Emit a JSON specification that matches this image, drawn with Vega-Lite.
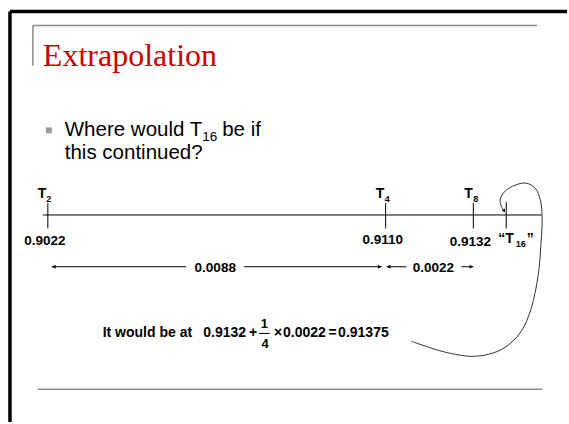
{
  "$schema": "https://vega.github.io/schema/vega-lite/v6.json",
  "width": 569,
  "height": 424,
  "autosize": {"type": "fit", "contains": "padding"},
  "padding": 0,
  "background": "white",
  "config": {"view": {"stroke": null}},
  "datasets": {
    "border": [
      {"x": 10, "y": 11.5, "x2": 569, "y2": 11.5},
      {"x": 10, "y": 11.5, "x2": 10, "y2": 424}
    ],
    "grayLines": [
      {"x": 33, "y": 25.5, "x2": 539, "y2": 25.5},
      {"x": 33, "y": 25.5, "x2": 33, "y2": 66},
      {"x": 38, "y": 391, "x2": 544, "y2": 391}
    ],
    "blackLines": [
      {"x": 43, "y": 216, "x2": 543.5, "y2": 216},
      {"x": 48, "y": 204, "x2": 48, "y2": 229.5},
      {"x": 387, "y": 204, "x2": 387, "y2": 229.5},
      {"x": 475, "y": 204, "x2": 475, "y2": 229.5},
      {"x": 508, "y": 203, "x2": 508, "y2": 229.5},
      {"x": 52, "y": 268, "x2": 187, "y2": 268},
      {"x": 245, "y": 268, "x2": 383, "y2": 268},
      {"x": 388, "y": 268, "x2": 408, "y2": 268},
      {"x": 463, "y": 268, "x2": 475, "y2": 268},
      {"x": 260, "y": 335, "x2": 270.7, "y2": 335}
    ],
    "headsLeft": [{"x": 54, "y": 268}, {"x": 390, "y": 268}],
    "headsRight": [{"x": 381, "y": 268}, {"x": 473, "y": 268}],
    "curve": [
      {"o": 1, "x": 413, "y": 343},
      {"o": 2, "x": 440, "y": 352},
      {"o": 3, "x": 457, "y": 356},
      {"o": 4, "x": 473, "y": 358},
      {"o": 5, "x": 490, "y": 356},
      {"o": 6, "x": 507, "y": 349},
      {"o": 7, "x": 523, "y": 333},
      {"o": 8, "x": 533, "y": 310},
      {"o": 9, "x": 540, "y": 277},
      {"o": 10, "x": 543, "y": 243},
      {"o": 11, "x": 544, "y": 217},
      {"o": 12, "x": 542, "y": 200},
      {"o": 13, "x": 537, "y": 189},
      {"o": 14, "x": 528, "y": 184},
      {"o": 15, "x": 517, "y": 186},
      {"o": 16, "x": 507, "y": 192},
      {"o": 17, "x": 502, "y": 200},
      {"o": 18, "x": 503, "y": 207},
      {"o": 19, "x": 506, "y": 212}
    ],
    "curveHead": [{"x": 506, "y": 212}],
    "bullet": [{"x": 49, "y": 131}],
    "title": [{"x": 43, "y": 66, "label": "Extrapolation"}],
    "body": [
      {"x": 65, "y": 137, "label": "Where would T"},
      {"x": 223, "y": 137, "label": "be if"},
      {"x": 65, "y": 160, "label": "this continued?"}
    ],
    "bodySub": [{"x": 203, "y": 142, "label": "16"}],
    "tLabels": [
      {"x": 38, "y": 199.3, "label": "T"},
      {"x": 377, "y": 199.3, "label": "T"},
      {"x": 466, "y": 199.3, "label": "T"},
      {"x": 500, "y": 244, "label": "“T"}
    ],
    "tQuote": [
      {"x": 528.5, "y": 244, "label": "”"}
    ],
    "tSubs": [
      {"x": 46.5, "y": 203, "label": "2"},
      {"x": 386, "y": 203, "label": "4"},
      {"x": 475, "y": 203, "label": "8"},
      {"x": 517.5, "y": 248, "label": "16"}
    ],
    "valueLabels": [
      {"x": 45, "y": 246, "label": "0.9022"},
      {"x": 384, "y": 245, "label": "0.9110"},
      {"x": 472, "y": 247, "label": "0.9132"},
      {"x": 216, "y": 273, "label": "0.0088"},
      {"x": 435, "y": 273, "label": "0.0022"}
    ],
    "formulaLeft": [
      {"x": 103, "y": 339, "label": "It would be at"},
      {"x": 204, "y": 339, "label": "0.9132"},
      {"x": 284, "y": 339, "label": "0.0022"},
      {"x": 339.3, "y": 339, "label": "0.91375"}
    ],
    "formulaSymbols": [
      {"x": 254, "y": 339, "label": "+"},
      {"x": 279, "y": 339, "label": "×"},
      {"x": 333.7, "y": 339, "label": "="}
    ],
    "fraction": [
      {"x": 265.3, "y": 330, "label": "1"},
      {"x": 266, "y": 350, "label": "4"}
    ]
  },
  "encoding": {
    "x": {"field": "x", "type": "quantitative", "scale": {"domain": [0, 569], "nice": false, "zero": false}, "axis": null},
    "y": {"field": "y", "type": "quantitative", "scale": {"domain": [0, 424], "nice": false, "zero": false, "reverse": true}, "axis": null}
  },
  "layer": [
    {
      "data": {"name": "border"},
      "mark": {"type": "rule", "color": "#000000", "strokeWidth": 3.5},
      "encoding": {"x2": {"field": "x2"}, "y2": {"field": "y2"}}
    },
    {
      "data": {"name": "grayLines"},
      "mark": {"type": "rule", "color": "#8c8c8c", "strokeWidth": 1.5},
      "encoding": {"x2": {"field": "x2"}, "y2": {"field": "y2"}}
    },
    {
      "data": {"name": "blackLines"},
      "mark": {"type": "rule", "color": "#000000", "strokeWidth": 1},
      "encoding": {"x2": {"field": "x2"}, "y2": {"field": "y2"}}
    },
    {
      "data": {"name": "headsLeft"},
      "mark": {"type": "point", "shape": "triangle-left", "filled": true, "color": "#000000", "size": 16, "opacity": 1}
    },
    {
      "data": {"name": "headsRight"},
      "mark": {"type": "point", "shape": "triangle-right", "filled": true, "color": "#000000", "size": 16, "opacity": 1}
    },
    {
      "data": {"name": "curve"},
      "mark": {"type": "line", "color": "#333333", "strokeWidth": 1, "interpolate": "catmull-rom"},
      "encoding": {"order": {"field": "o", "type": "quantitative"}}
    },
    {
      "data": {"name": "curveHead"},
      "mark": {"type": "point", "shape": "triangle-down", "filled": true, "color": "#000000", "size": 14, "angle": 327, "opacity": 1}
    },
    {
      "data": {"name": "bullet"},
      "mark": {"type": "point", "shape": "square", "filled": true, "color": "#999999", "size": 36, "opacity": 1}
    },
    {
      "data": {"name": "title"},
      "mark": {"type": "text", "align": "left", "baseline": "alphabetic", "font": "Liberation Serif", "fontSize": 32, "color": "#cc0000"},
      "encoding": {"text": {"field": "label"}}
    },
    {
      "data": {"name": "body"},
      "mark": {"type": "text", "align": "left", "baseline": "alphabetic", "font": "Liberation Sans", "fontSize": 20.5, "color": "#000000"},
      "encoding": {"text": {"field": "label"}}
    },
    {
      "data": {"name": "bodySub"},
      "mark": {"type": "text", "align": "left", "baseline": "alphabetic", "font": "Liberation Sans", "fontSize": 13.5, "color": "#000000"},
      "encoding": {"text": {"field": "label"}}
    },
    {
      "data": {"name": "tLabels"},
      "mark": {"type": "text", "align": "left", "baseline": "alphabetic", "font": "Liberation Sans", "fontWeight": "bold", "fontSize": 14, "color": "#000000"},
      "encoding": {"text": {"field": "label"}}
    },
    {
      "data": {"name": "tQuote"},
      "mark": {"type": "text", "align": "left", "baseline": "alphabetic", "font": "Liberation Sans", "fontWeight": "bold", "fontSize": 14, "color": "#000000"},
      "encoding": {"text": {"field": "label"}}
    },
    {
      "data": {"name": "tSubs"},
      "mark": {"type": "text", "align": "left", "baseline": "alphabetic", "font": "Liberation Sans", "fontWeight": "bold", "fontSize": 9, "color": "#000000"},
      "encoding": {"text": {"field": "label"}}
    },
    {
      "data": {"name": "valueLabels"},
      "mark": {"type": "text", "align": "center", "baseline": "alphabetic", "font": "Liberation Sans", "fontWeight": "bold", "fontSize": 13.5, "color": "#000000"},
      "encoding": {"text": {"field": "label"}}
    },
    {
      "data": {"name": "formulaLeft"},
      "mark": {"type": "text", "align": "left", "baseline": "alphabetic", "font": "Liberation Sans", "fontWeight": "bold", "fontSize": 14, "color": "#000000"},
      "encoding": {"text": {"field": "label"}}
    },
    {
      "data": {"name": "formulaSymbols"},
      "mark": {"type": "text", "align": "center", "baseline": "alphabetic", "font": "Liberation Sans", "fontWeight": "bold", "fontSize": 14, "color": "#000000"},
      "encoding": {"text": {"field": "label"}}
    },
    {
      "data": {"name": "fraction"},
      "mark": {"type": "text", "align": "center", "baseline": "alphabetic", "font": "Liberation Sans", "fontWeight": "bold", "fontSize": 13, "color": "#000000"},
      "encoding": {"text": {"field": "label"}}
    }
  ]
}
